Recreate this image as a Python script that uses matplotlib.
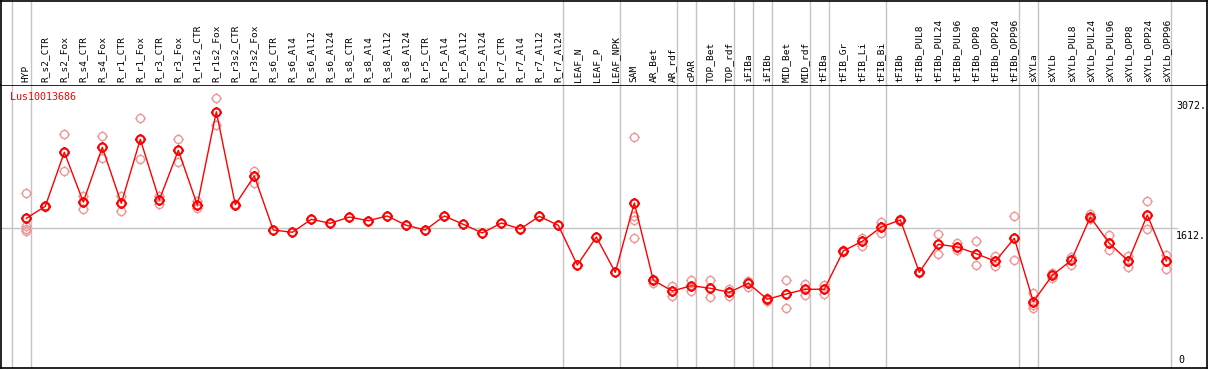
import numpy as np
import matplotlib.pyplot as plt
from matplotlib.path import Path

# sample names (x axis)
labels = ["HYP", "R_s2_CTR", "R_s2_Fox", "R_s4_CTR", "R_s4_Fox", "R_r1_CTR", "R_r1_Fox",
          "R_r3_CTR", "R_r3_Fox", "R_r1s2_CTR", "R_r1s2_Fox", "R_r3s2_CTR", "R_r3s2_Fox",
          "R_s6_CTR", "R_s6_Al4", "R_s6_Al12", "R_s6_Al24", "R_s8_CTR", "R_s8_Al4",
          "R_s8_Al12", "R_s8_Al24", "R_r5_CTR", "R_r5_Al4", "R_r5_Al12", "R_r5_Al24",
          "R_r7_CTR", "R_r7_Al4", "R_r7_Al12", "R_r7_Al24", "LEAF_N", "LEAF_P", "LEAF_NPK",
          "SAM", "AR_Bet", "AR_rdf", "cPAR", "TOP_Bet", "TOP_rdf", "iFIBa", "iFIBb",
          "MID_Bet", "MID_rdf", "tFIBa", "tFIB_Gr", "tFIB_Li", "tFIB_Bi", "tFIBb",
          "tFIBb_PUL8", "tFIBb_PUL24", "tFIBb_PUL96", "tFIBb_OPP8", "tFIBb_OPP24",
          "tFIBb_OPP96", "sXYLa", "sXYLb", "sXYLb_PUL8", "sXYLb_PUL24", "sXYLb_PUL96",
          "sXYLb_OPP8", "sXYLb_OPP24", "sXYLb_OPP96"]

# mean expression per sample
means = [1724, 1859, 2465, 1907, 2521, 1892, 2611, 1929, 2487, 1873, 2921, 1877, 2199,
         1592, 1567, 1712, 1668, 1738, 1697, 1750, 1645, 1592, 1750, 1656, 1559, 1671,
         1604, 1746, 1645, 1199, 1514, 1117, 1896, 1028, 907, 967, 938, 893, 994, 814,
         874, 927, 927, 1357, 1466, 1626, 1705, 1117, 1432, 1402, 1326, 1241, 1499, 787,
         1084, 1252, 1738, 1443, 1244, 1761, 1244]

# replicate values (light circles)
reps = [[2008, 1640, 1600, 1585], [1852, 1866], [2667, 2252], [1974, 1832],
        [2648, 2398], [1974, 1802], [2847, 2386], [1974, 1881], [2611, 2353],
        [1918, 1836], [3072, 2772], [1880, 1872], [2258, 2117],
        [], [], [], [], [], [], [], [], [], [], [], [], [], [], [], [], [], [], [],
        [2637, 1753, 1705, 1499], [1040, 994], [960, 851], [1031, 907], [1031, 837],
        [933, 855], [1023, 956], [830, 800], [1028, 713], [989, 866], [978, 877],
        [1365, 1350], [1506, 1413], [1682, 1562], [1715, 1695], [1120, 1114],
        [1544, 1320], [1443, 1371], [1469, 1199], [1297, 1191], [1746, 1252],
        [885, 750, 720], [1113, 1053], [1293, 1196], [1776, 1712], [1533, 1368],
        [1304, 1180], [1918, 1600], [1312, 1158]]

# last sample index of each group (separator lines)
group_ends = [-1, 0, 28, 31, 34, 35, 37, 38, 39, 41, 42, 45, 52, 53, 60]
gene = "Lus10013686"
y_marks = [3072, 1612, 0]

W, H = 1209, 370
mono = "DejaVu Sans Mono"
grid_col = "#c4c4c4"

# circle marker with small ticks
circ = Path.unit_circle()
tk = 1.3
ticks = Path([(0, 1), (0, tk), (0, -1), (0, -tk), (1, 0), (tk, 0), (-1, 0), (-tk, 0)],
             [Path.MOVETO, Path.LINETO] * 4)
gear = Path.make_compound_path(circ, ticks)

fig = plt.figure(figsize=(W / 100, H / 100), dpi=100)
ax = fig.add_axes([1 / W, 2 / H, 1205.7 / W, 283 / H])
hx = fig.add_axes([1 / W, 285 / H, 1205.7 / W, 84.5 / H])

xlim = (-1.332, 62.126)
x = np.arange(len(labels))

for a in (ax, hx):
    a.set_xlim(*xlim)
    a.set_xticks([])
    a.set_yticks([])
    for g in group_ends:
        a.axvline(g + 0.23, color=grid_col, lw=1, zorder=0)
    for s in a.spines.values():
        s.set_color("black")
        s.set_linewidth(1.2)

hx.set_ylim(0, 1)
hx.spines["bottom"].set_visible(False)
for i, lab in enumerate(labels):
    hx.text(i, 0.03, lab, rotation=90, ha="center", va="bottom",
            fontsize=6.8, family=mono)

ax.set_ylim(42.7, 3220.7)
ax.axhline(1612, xmax=(60.55 - xlim[0]) / (xlim[1] - xlim[0]), color=grid_col, lw=1, zorder=0)

for i, r in enumerate(reps):
    if r:
        ax.plot([i] * len(r), r, linestyle="none", marker=gear, ms=7.5,
                mfc="none", mec="#ee9696", mew=1.0, zorder=2)

ax.plot(x, means, color="red", lw=1, zorder=3)
ax.plot(x, means, linestyle="none", marker=gear, ms=7.5, mfc="none",
        mec="red", mew=1.5, zorder=4)

ax.text(0.0075, 0.957, gene, transform=ax.transAxes, color="red",
        fontsize=7.2, family=mono, ha="left", va="center")

tx = 0.9745
for v in y_marks:
    if v > ax.get_ylim()[0]:
        ax.annotate(f"{v}.", (tx, v), xycoords=("axes fraction", "data"),
                    xytext=(0, -2), textcoords="offset points",
                    fontsize=7.2, family=mono, ha="left", va="top")
    else:
        ax.annotate(f"{v}", (tx + 0.002, 0), xycoords="axes fraction",
                    xytext=(0, 2), textcoords="offset points",
                    fontsize=7.2, family=mono, ha="left", va="bottom")

fig.savefig("out.png", dpi=100)
